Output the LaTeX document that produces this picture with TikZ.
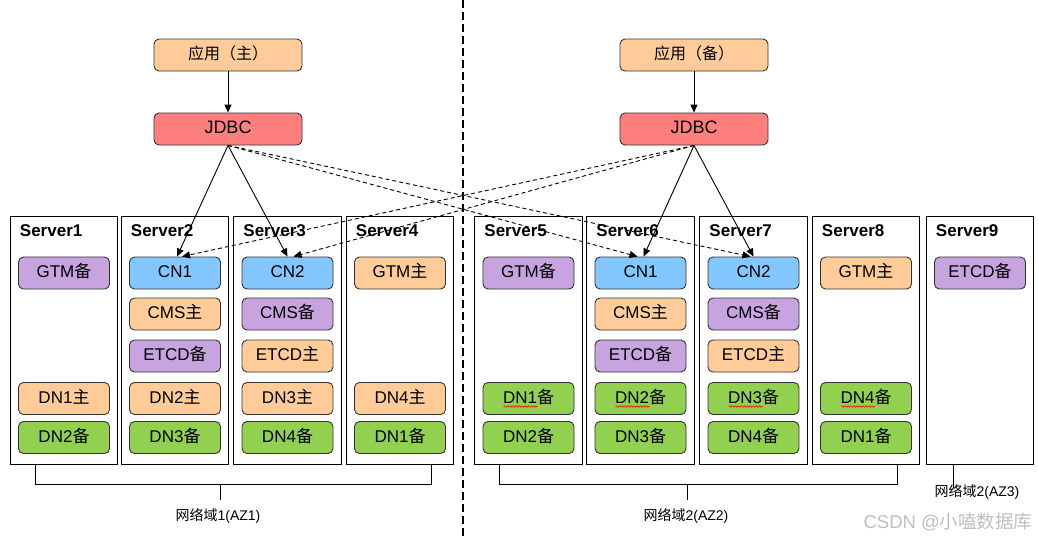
\documentclass[tikz,border=0pt]{standalone}
\usepackage{fontspec}
\setmainfont{Liberation Sans}
\newfontfamily\cjk{Noto Sans CJK SC}
\newcommand\zh[1]{{\cjk #1}}
\usetikzlibrary{arrows.meta,decorations.pathmorphing}
\definecolor{mainfill}{HTML}{FFCC99}
\definecolor{stbyfill}{HTML}{C7A3E0}
\definecolor{cnfill}{HTML}{82C7FF}
\definecolor{dnfill}{HTML}{92D050}
\definecolor{jdbcfill}{HTML}{FF7F7F}
\definecolor{boxline}{HTML}{333333}
\tikzset{
  box/.style={draw=boxline, rounded corners=5pt, line width=0.9pt, minimum width=91pt,
    minimum height=32pt, text height=12pt, text depth=3pt, inner sep=0pt,
    font=\fontsize{17}{17}\selectfont},
  mainbox/.style={box, fill=mainfill},
  stbybox/.style={box, fill=stbyfill},
  cnbox/.style={box, fill=cnfill},
  dnbox/.style={box, fill=dnfill},
  appbox/.style={box, minimum width=148pt, fill=mainfill, font=\fontsize{16}{16}\selectfont},
  jdbcbox/.style={box, minimum width=148pt, fill=jdbcfill, font=\fontsize{18}{18}\selectfont},
  server/.style={draw, line width=1pt, minimum width=107.5pt, minimum height=248pt, inner sep=0pt},
  servertitle/.style={inner sep=0pt, font=\fontsize{17}{17}\selectfont\bfseries},
  azlabel/.style={inner sep=0pt, font=\fontsize{14}{14}\selectfont},
  link/.style={-{Triangle[length=8pt,width=7pt]}, line width=0.9pt},
  backup/.style={link, dash pattern=on 4pt off 3pt},
  squiggle/.style={red, line width=0.6pt, decorate, decoration={snake, segment length=3pt, amplitude=0.8pt}}
}
\begin{document}
\begin{tikzpicture}[x=1pt, y=-1pt]
  \useasboundingbox (0,0) rectangle (1038,539);
  % AZ divider
  \draw[line width=2pt, dash pattern=on 8pt off 4pt] (463,0) -- (463,539);

  % applications and drivers
  \node[appbox] (app_main) at (228,55) {\zh{应用（主）}};
  \node[jdbcbox] (jdbc_main) at (228,129) {JDBC};
  \node[appbox] (app_stby) at (694,55) {\zh{应用（备）}};
  \node[jdbcbox] (jdbc_stby) at (694,129) {JDBC};

  % servers
  \foreach \i/\x in {1/64,2/175,3/287.5,4/400,5/528.5,6/640.5,7/753.5,8/866,9/980}{
    \node[server, name=s\i] at (\x,340) {};
    \node[servertitle, anchor=base west, name=t\i] at ([xshift=10pt,yshift=-21pt]s\i.north west) {Server\i};
  }

  % AZ1
  \node[stbybox] (gtm_1) at (64,273) {GTM\zh{备}};
  \node[mainbox] (dn_1a) at (64,398.5) {DN1\zh{主}};
  \node[dnbox] (dn_1b) at (64,437.5) {DN2\zh{备}};

  \node[cnbox] (cn_2) at (175,273) {CN1};
  \node[mainbox] (cms_2) at (175,314) {CMS\zh{主}};
  \node[stbybox] (etcd_2) at (175,356) {ETCD\zh{备}};
  \node[mainbox] (dn_2a) at (175,398.5) {DN2\zh{主}};
  \node[dnbox] (dn_2b) at (175,437.5) {DN3\zh{备}};

  \node[cnbox] (cn_3) at (287.5,273) {CN2};
  \node[stbybox] (cms_3) at (287.5,314) {CMS\zh{备}};
  \node[mainbox] (etcd_3) at (287.5,356) {ETCD\zh{主}};
  \node[mainbox] (dn_3a) at (287.5,398.5) {DN3\zh{主}};
  \node[dnbox] (dn_3b) at (287.5,437.5) {DN4\zh{备}};

  \node[mainbox] (gtm_4) at (400,273) {GTM\zh{主}};
  \node[mainbox] (dn_4a) at (400,398.5) {DN4\zh{主}};
  \node[dnbox] (dn_4b) at (400,437.5) {DN1\zh{备}};

  % AZ2
  \node[stbybox] (gtm_5) at (528.5,273) {GTM\zh{备}};
  \node[dnbox] (dn_5a) at (528.5,398.5) {DN1\zh{备}};
  \node[dnbox] (dn_5b) at (528.5,437.5) {DN2\zh{备}};

  \node[cnbox] (cn_6) at (640.5,273) {CN1};
  \node[mainbox] (cms_6) at (640.5,314) {CMS\zh{主}};
  \node[stbybox] (etcd_6) at (640.5,356) {ETCD\zh{备}};
  \node[dnbox] (dn_6a) at (640.5,398.5) {DN2\zh{备}};
  \node[dnbox] (dn_6b) at (640.5,437.5) {DN3\zh{备}};

  \node[cnbox] (cn_7) at (753.5,273) {CN2};
  \node[stbybox] (cms_7) at (753.5,314) {CMS\zh{备}};
  \node[mainbox] (etcd_7) at (753.5,356) {ETCD\zh{主}};
  \node[dnbox] (dn_7a) at (753.5,398.5) {DN3\zh{备}};
  \node[dnbox] (dn_7b) at (753.5,437.5) {DN4\zh{备}};

  \node[mainbox] (gtm_8) at (866,273) {GTM\zh{主}};
  \node[dnbox] (dn_8a) at (866,398.5) {DN4\zh{备}};
  \node[dnbox] (dn_8b) at (866,437.5) {DN1\zh{备}};

  % AZ3
  \node[stbybox] (etcd_9) at (980,273) {ETCD\zh{备}};

  % spell-check marks
  \foreach \n in {dn_5a,dn_6a,dn_7a,dn_8a}
    \draw[squiggle] ([shift={(-25pt,-8pt)}]\n.center) -- ++(34,0);

  % connections
  \draw[link] (app_main) -- (jdbc_main);
  \draw[link] (app_stby) -- (jdbc_stby);
  \draw[link] (jdbc_main.south) -- ([xshift=2pt]cn_2.north);
  \draw[link] (jdbc_main.south) -- (cn_3.north);
  \draw[link] (jdbc_stby.south) -- ([xshift=3pt]cn_6.north);
  \draw[link] (jdbc_stby.south) -- (cn_7.north);
  \draw[backup] (jdbc_main.south) -- ([xshift=-3pt]cn_6.north);
  \draw[backup] (jdbc_main.south) -- ([xshift=-3pt]cn_7.north);
  \draw[backup] (jdbc_stby.south) -- ([xshift=7pt]cn_2.north);
  \draw[backup] (jdbc_stby.south) -- ([xshift=6pt]cn_3.north);

  % network domains
  \draw ([xshift=-29pt]s1.south) -- ++(0,20) -| ([xshift=31pt]s4.south);
  \draw ([xshift=-29pt]s5.south) -- ++(0,20) -| ([xshift=31pt]s8.south);
  \coordinate (az1_top) at (220,484);
  \coordinate (az2_top) at (687,484);
  \draw (az1_top) -- ++(0,16);
  \draw (az2_top) -- ++(0,16);
  \draw ([xshift=-27pt]s9.south) -- ++(0,23);
  \node[azlabel] (az1) at (218,515.5) {\zh{网络域}1(AZ1)};
  \node[azlabel] (az2) at (686,515.5) {\zh{网络域}2(AZ2)};
  \node[azlabel] (az3) at (977,491.5) {\zh{网络域}2(AZ3)};

  % watermark
  \node[inner sep=0pt, text=black!25, font=\fontsize{18.5}{18.5}\selectfont] (mark) at (948,522) {CSDN @\zh{小嗑数据库}};
\end{tikzpicture}
\end{document}
